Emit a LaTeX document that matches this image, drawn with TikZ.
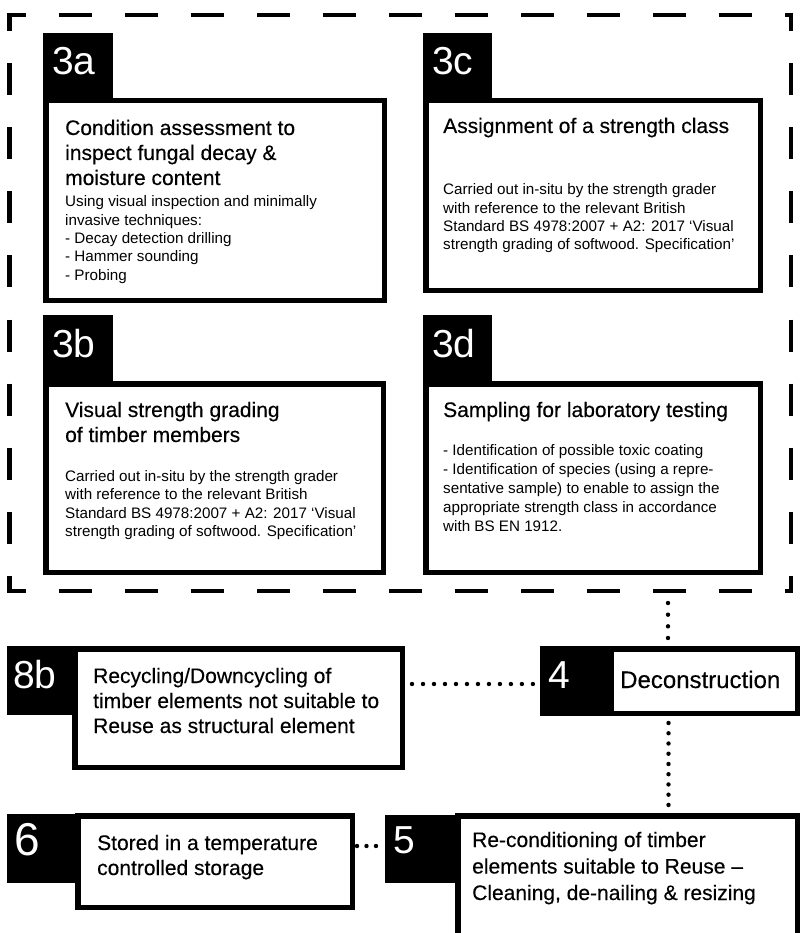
\documentclass[tikz,border=0pt]{standalone}
\usepackage{fontspec}
\setmainfont{Liberation Sans}
\newfontfamily\MedFam[FakeBold=0.3]{Liberation Sans}
\usetikzlibrary{calc}
\newcommand\TitleF{\MedFam\fontsize{21}{25}\selectfont}
\newcommand\BodyF[1]{\fontsize{15.2}{#1}\selectfont}
\begin{document}
\begin{tikzpicture}[x=1pt,y=-1pt,
  lab/.style={fill=black, inner sep=0pt, outer sep=0pt, anchor=north west},
  box/.style={draw=black, line width=5.5pt, inner sep=0pt, outer sep=0pt, anchor=north west},
  num/.style={text=white, anchor=base west, inner sep=0pt, font=\fontsize{39}{39}\selectfont},
  txt/.style={anchor=base west, inner sep=0pt, text=black},
  dotline/.style={line width=4.4pt, line cap=round, dash pattern=on 0pt off #1},
  dotline/.default=10pt,
  border/.style={line width=4.6pt, draw=black}]
\clip (0,0) rectangle (801,933);
\useasboundingbox (0,0) rectangle (801,933);

% dashed frame
\draw[border, dash pattern=on 33pt off 33pt, dash phase=14.2pt] (7.2,15) -- (793.3,15);
\draw[border, dash pattern=on 33pt off 33pt, dash phase=14.2pt] (7.2,591) -- (793.3,591);
\draw[border, dash pattern=on 32pt off 32.1pt, dash phase=13.7pt] (9.5,12.7) -- (9.5,593.3);
\draw[border, dash pattern=on 32pt off 32.1pt, dash phase=13.7pt] (791,12.7) -- (791,593.3);

% 3a
\node[lab, minimum width=70pt, minimum height=68pt] (l3a) at (43,33) {};
\node[box, minimum width=338.5pt, minimum height=199.5pt] (b3a) at (45.75,100.75) {};
\node[num] (n3a) at (52,75) {3a};
\node[txt] (t3a) at (65,135) {\parbox[t]{320pt}{\raggedright\TitleF Condition assessment to\\inspect fungal decay \&\\moisture content}};
\node[txt] (d3a) at (65,207) {\parbox[t]{320pt}{\raggedright\BodyF{18.3}Using visual inspection and minimally\\invasive techniques:\\- Decay detection drilling\\- Hammer sounding\\- Probing}};

% 3c
\node[lab, minimum width=69pt, minimum height=68pt] (l3c) at (423,33) {};
\node[box, minimum width=334.5pt, minimum height=189.5pt] (b3c) at (425.75,100.75) {};
\node[num] (n3c) at (432,75) {3c};
\node[txt] (t3c) at (443,133) {\parbox[t]{320pt}{\raggedright\TitleF Assignment of a strength class}};
\node[txt] (d3c) at (443,195) {\parbox[t]{320pt}{\raggedright\BodyF{18.1}Carried out in-situ by the strength grader\\with reference to the relevant British\\Standard BS 4978:2007 + A2: 2017 ‘Visual\\strength grading of softwood. Specification’}};

% 3b
\node[lab, minimum width=70pt, minimum height=68pt] (l3b) at (43,315) {};
\node[box, minimum width=337.5pt, minimum height=188.5pt] (b3b) at (45.75,383.75) {};
\node[num] (n3b) at (52,357) {3b};
\node[txt] (t3b) at (65,417) {\parbox[t]{320pt}{\raggedright\TitleF Visual strength grading\\of timber members}};
\node[txt] (d3b) at (65,481) {\parbox[t]{320pt}{\raggedright\BodyF{18.6}Carried out in-situ by the strength grader\\with reference to the relevant British\\Standard BS 4978:2007 + A2: 2017 ‘Visual\\strength grading of softwood. Specification’}};

% 3d
\node[lab, minimum width=69pt, minimum height=68pt] (l3d) at (423,315) {};
\node[box, minimum width=334.5pt, minimum height=188.5pt] (b3d) at (425.75,383.75) {};
\node[num] (n3d) at (432,357) {3d};
\node[txt] (t3d) at (443,417) {\parbox[t]{320pt}{\raggedright\TitleF Sampling for laboratory testing}};
\node[txt] (d3d) at (443,455) {\parbox[t]{320pt}{\raggedright\BodyF{19.2}- Identification of possible toxic coating\\- Identification of species (using a repre-\\sentative sample) to enable to assign the\\appropriate strength class in accordance\\with BS EN 1912.}};

% 8b
\node[lab, minimum width=65pt, minimum height=69pt] (l8b) at (7,646) {};
\node[box, minimum width=327.5pt, minimum height=118.5pt] (b8b) at (74.75,648.75) {};
\node[num] (n8b) at (13,688) {8b};
\node[txt] (t8b) at (93,683) {\parbox[t]{320pt}{\raggedright\TitleF Recycling/Downcycling of\\timber elements not suitable to\\Reuse as structural element}};

% 4
\node[lab, minimum width=68pt, minimum height=70pt] (l4) at (540,646) {};
\node[box, minimum width=186.5pt, minimum height=64.5pt] (b4) at (610.75,648.75) {};
\node[num] (n4) at (548,688) {4};
\node[txt] (t4) at (620,688) {\MedFam\fontsize{24}{28}\selectfont Deconstruction};

% 6
\node[lab, minimum width=68pt, minimum height=69pt] (l6) at (7,814) {};
\node[box, minimum width=274.5pt, minimum height=91.5pt] (b6) at (77.75,815.75) {};
\node[num, font=\fontsize{46}{46}\selectfont] (n6) at (14,855) {6};
\node[txt] (t6) at (97,850) {\parbox[t]{260pt}{\raggedright\TitleF Stored in a temperature\\controlled storage}};

% 5
\node[lab, minimum width=70pt, minimum height=68pt] (l5) at (385,815) {};
\node[box, minimum width=339.5pt, minimum height=200pt] (b5) at (457.75,815.75) {};
\node[num] (n5) at (393,853) {5};
\node[txt] (t5) at (472,847) {\parbox[t]{320pt}{\raggedright\MedFam\fontsize{21}{26.5}\selectfont Re-conditioning of timber\\elements suitable to Reuse –\\Cleaning, de-nailing \& resizing}};

% dotted connectors
\coordinate (fr) at (668,591);
\draw[dotline=11.66pt, shorten <=12pt, shorten >=10.75pt] (fr) -- (fr |- b4.north);
\coordinate (v45) at (668.5,760);
\draw[dotline=10.24pt, shorten <=9.75pt, shorten >=10.75pt] (v45 |- b4.south) -- (v45 |- b5.north);
\coordinate (h84) at (470,684);
\draw[dotline=10.99pt, shorten <=9.75pt, shorten >=7pt] (h84 -| b8b.east) -- (h84 -| l4.west);
\coordinate (h65) at (370,846);
\draw[dotline=9.49pt, shorten <=4.75pt, shorten >=9pt] (h65 -| b6.east) -- (h65 -| l5.west);
\coordinate (off6) at (-17.5,846);
\draw[dotline=9.75pt, shorten >=5pt] (off6) -- (off6 -| l6.west);
\end{tikzpicture}
\end{document}
